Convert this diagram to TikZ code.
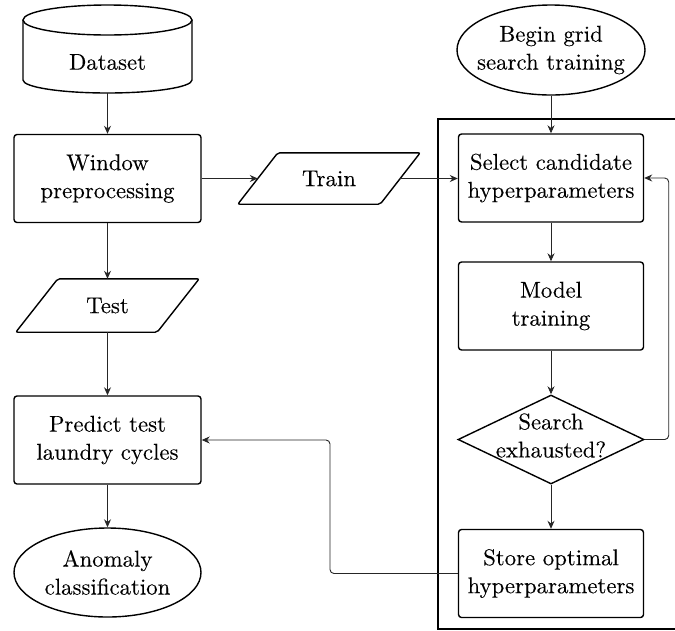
\documentclass[tikz,border=0pt]{standalone}
\usepackage{fontspec}
\setmainfont{lmroman10-regular}[Extension=.otf,FakeBold=0.15]
\usetikzlibrary{shapes.geometric,arrows.meta,calc}

\begin{document}
\begin{tikzpicture}[x=1pt,y=-1pt,
  txt/.style={align=center,font=\fontsize{22.8}{28}\selectfont,inner sep=0},
  procbox/.style={txt,draw,rounded corners=3,line width=1.4,minimum width=185,minimum height=88},
  outline/.style={draw,line width=1.4},
  ghost/.style={inner sep=0},
  arr/.style={-{Stealth[length=8,width=7]},line width=0.9,draw=black!85},
]
\useasboundingbox (0,0) rectangle (675,630);

% outer frame of the grid-search block
\draw[line width=2] (676,119) -- (438,119) -- (438,629) -- (676,629);

% dataset cylinder
\node[ghost,minimum width=169,minimum height=88] (ds) at (107.5,49) {};
\draw[outline] (23,20) -- (23,80) arc[start angle=180,end angle=360,x radius=84.5,y radius=-13] -- (192,20);
\draw[outline] (107.5,20) ellipse[x radius=84.5,y radius=15];
\node[txt] at (107.5,62) {Dataset};

% left column
\node[procbox,minimum width=187] (win) at (107.5,178.5) {Window\\preprocessing};
\node[ghost,minimum width=141,minimum height=53] (test) at (107.5,305.5) {};
\draw[outline,rounded corners=2] ($(test.north west)+(21,0)$) -- ($(test.north east)+(21,0)$) -- ($(test.south east)+(-21,0)$) -- ($(test.south west)+(-21,0)$) -- cycle;
\node[txt] at (test) {Test};
\node[procbox,minimum width=187] (pred) at (107.5,440) {Predict test\\laundry cycles};
\node[ghost,outline,ellipse,minimum width=187,minimum height=89] (anom) at (107.5,572.5) {};
\node[txt] at (anom) {Anomaly\\classification};

% train input
\node[ghost,minimum width=142,minimum height=51] (train) at (329,178.5) {};
\draw[outline,rounded corners=2] ($(train.north west)+(20,0)$) -- ($(train.north east)+(20,0)$) -- ($(train.south east)+(-20,0)$) -- ($(train.south west)+(-20,0)$) -- cycle;
\node[txt] at (train) {Train};

% right column
\node[ghost,outline,ellipse,minimum width=188,minimum height=90] (begin) at (551,50) {};
\node[txt] at (begin) {Begin grid\\search training};
\node[procbox] (sel) at (551,178) {Select candidate\\hyperparameters};
\node[procbox] (mod) at (551,306) {Model\\training};
\node[ghost,outline,diamond,minimum width=186,minimum height=89] (dia) at (551,439.5) {};
\node[txt] at (551,435.5) {Search\\exhausted?};
\node[procbox] (sto) at (551,573.5) {Store optimal\\hyperparameters};

% connectors
\draw[arr] (ds) -- (win);
\draw[arr] (win) -- (train);
\draw[arr] (train.east) -- (train.east -| sel.west);
\draw[arr] (win) -- (test);
\draw[arr] (test) -- (pred);
\draw[arr] (pred) -- (anom);
\draw[arr] (begin) -- (sel);
\draw[arr] (sel) -- (mod);
\draw[arr] (mod) -- (dia);
\draw[arr] (dia) -- (sto);
\draw[arr,rounded corners=4] (dia.east) -- ++(24,0) |- (sel.east);
\coordinate (bend) at (330,0);
\draw[arr,rounded corners=4] (sto.west) -| (bend |- pred.east) -- (pred.east);
\end{tikzpicture}
\end{document}
